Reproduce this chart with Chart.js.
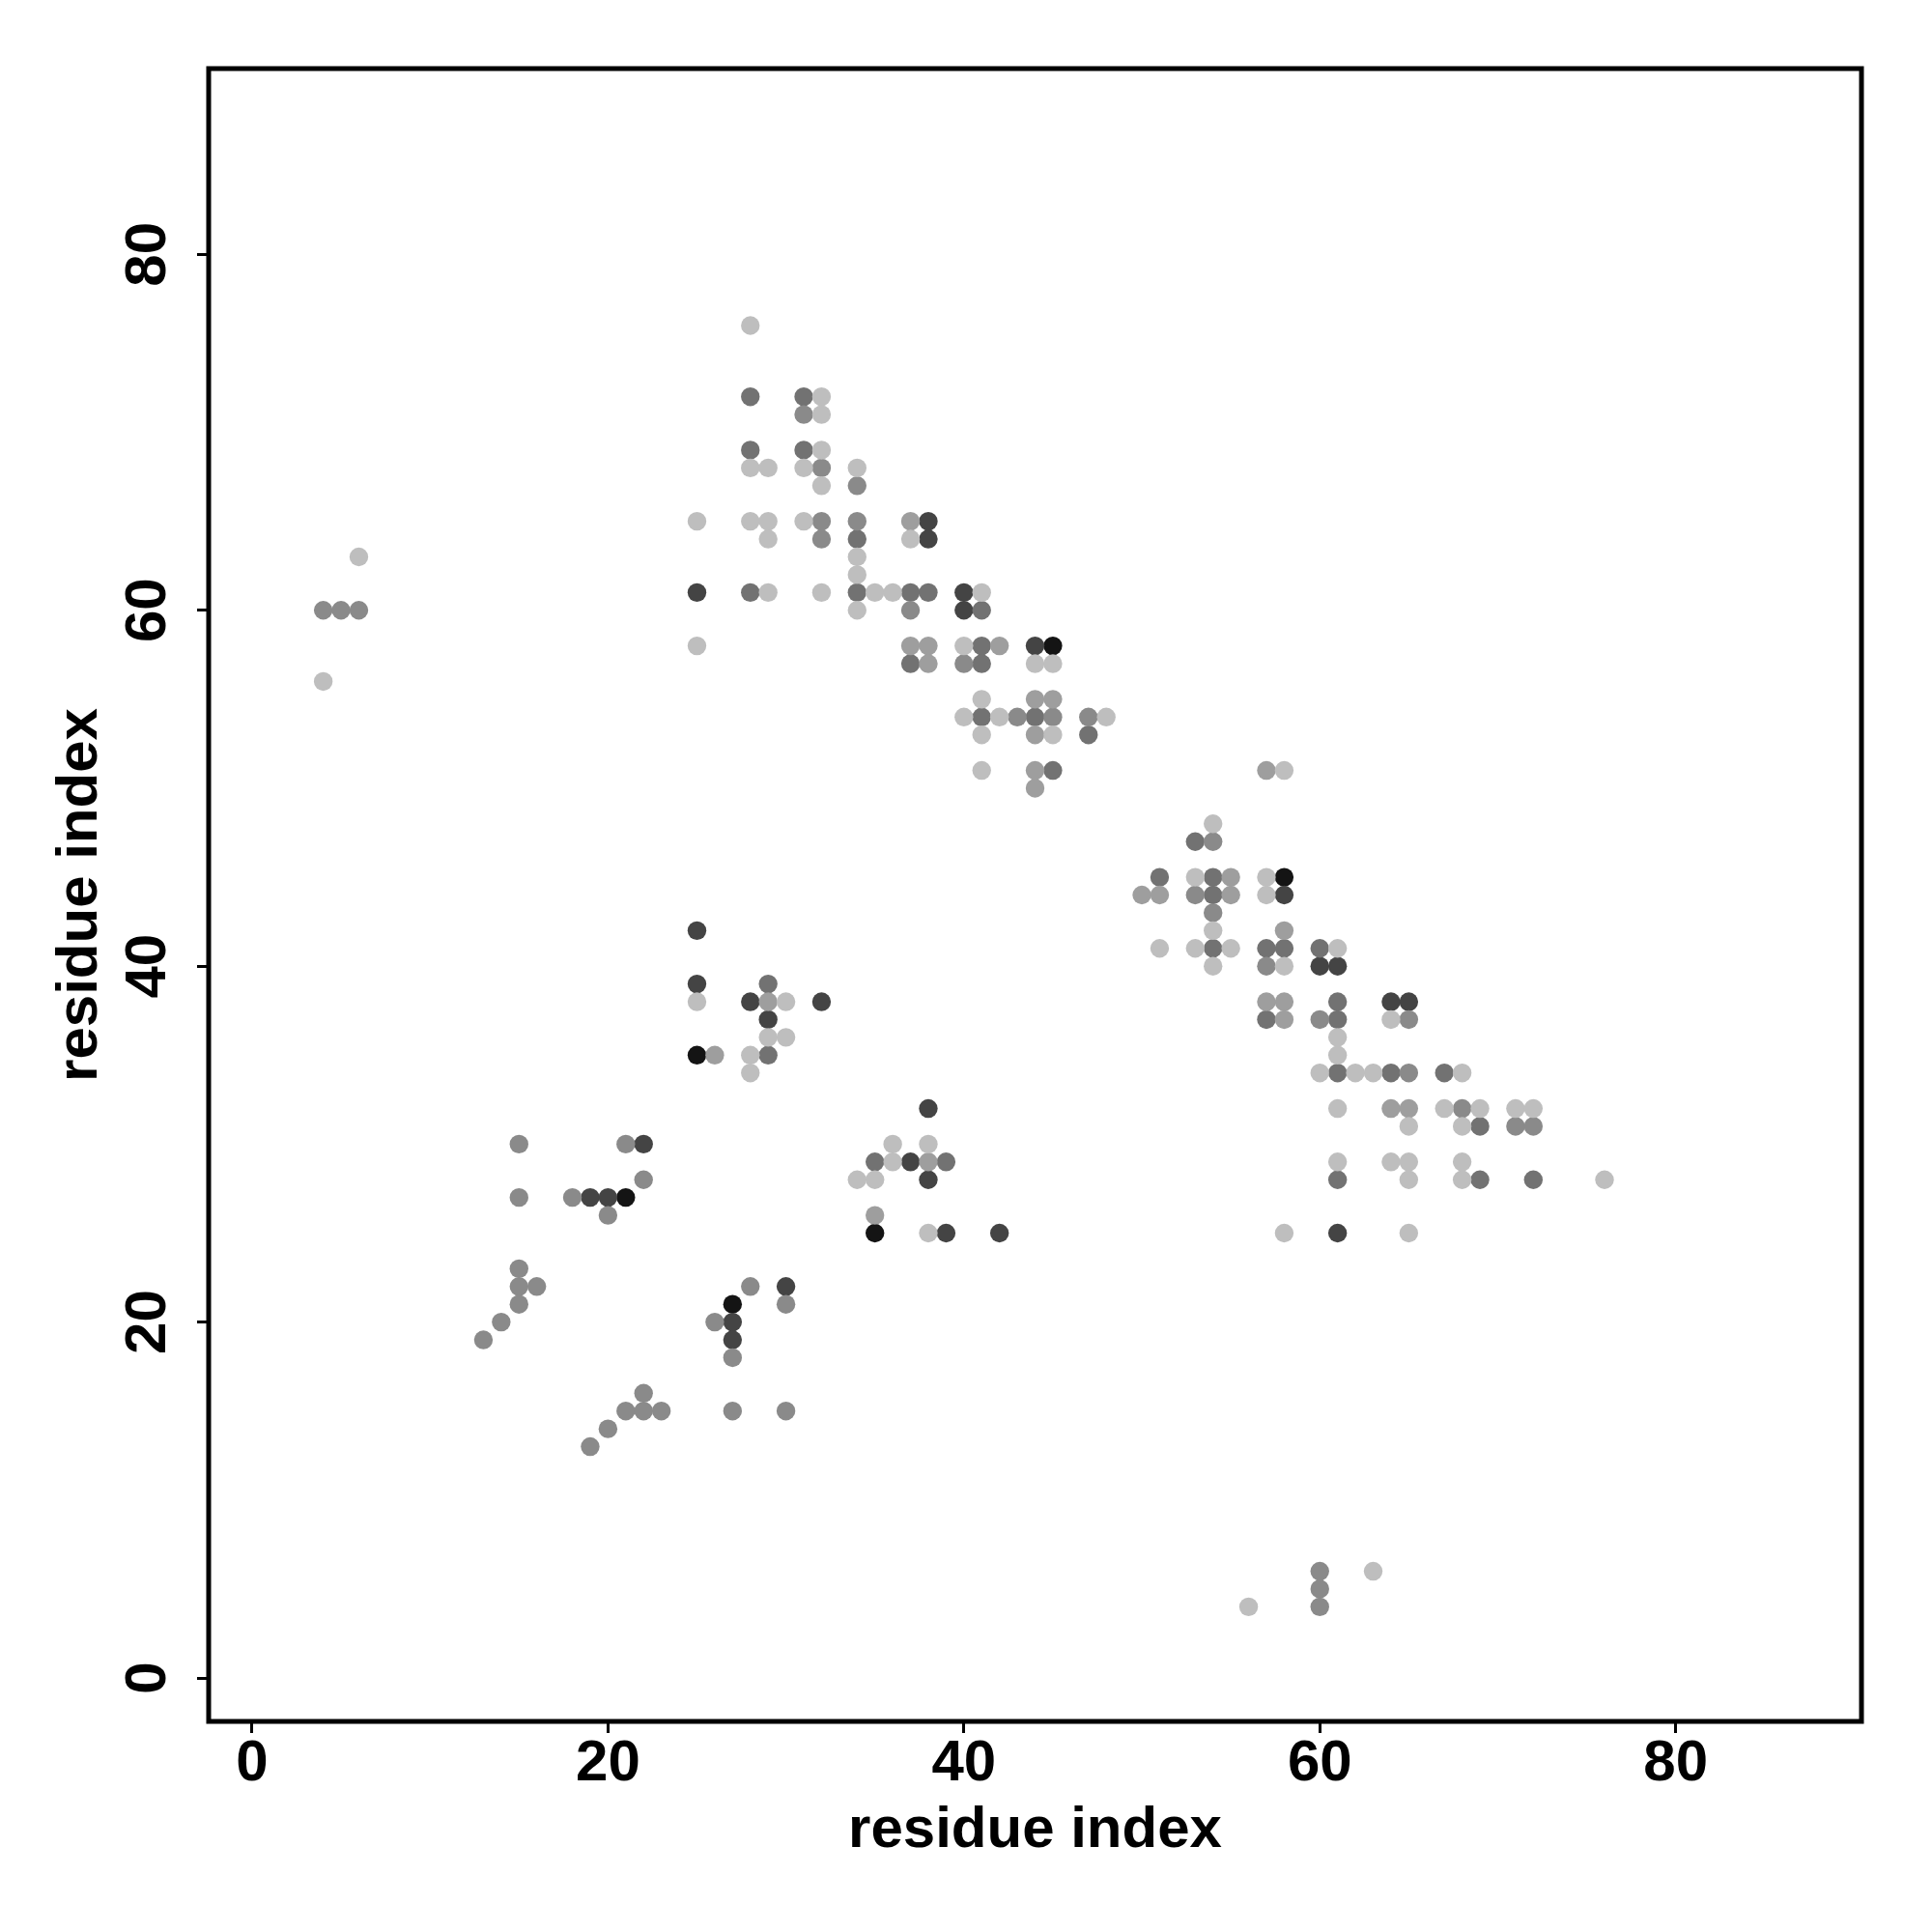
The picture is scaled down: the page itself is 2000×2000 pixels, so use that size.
<!DOCTYPE html>
<html>
<head>
<meta charset="utf-8">
<title>residue contact map</title>
<script src="https://cdn.jsdelivr.net/npm/chart.js@4.4.1/dist/chart.umd.min.js"></script>
<style>
  html, body { margin: 0; padding: 0; background: #fff; }
  #wrap { width: 2000px; height: 2000px; }
</style>
</head>
<body>
<div id="wrap"><canvas id="contactMap" width="2000" height="2000"></canvas></div>
<script>
// contacts [i, j], grouped by shade (lightest to darkest)
const lightContacts = [
  [4, 56], [6, 63],
  [28, 76], [32, 72], [32, 71], [32, 69], [28, 68], [29, 68], [31, 68], [34, 68], [32, 67],
  [25, 65], [28, 65], [29, 65], [31, 65], [29, 64], [37, 64], [34, 63], [34, 62],
  [29, 61], [32, 61], [35, 61], [36, 61], [41, 61], [34, 60], [25, 58], [40, 58],
  [44, 57], [45, 57], [41, 55], [40, 54], [42, 54], [48, 54], [41, 53], [45, 53], [41, 51],
  [58, 51], [54, 48], [53, 45], [57, 45], [57, 44], [54, 42], [51, 41], [53, 41], [55, 41],
  [61, 41], [54, 40], [58, 40], [61, 36], [61, 35], [61, 32], [61, 29], [64, 37], [60, 34],
  [62, 34], [63, 34], [68, 34], [67, 32], [69, 32], [71, 32], [72, 32], [65, 31], [68, 31],
  [64, 29], [65, 29], [68, 29], [65, 28], [68, 28], [76, 28], [58, 25], [65, 25],
  [25, 38], [30, 38], [29, 36], [30, 36], [28, 35], [28, 34], [36, 30], [38, 30], [36, 29],
  [34, 28], [35, 28], [38, 25],
  [56, 4], [63, 6]
];
const paleContacts = [
  [37, 65], [37, 58], [38, 58], [38, 57], [42, 58], [44, 55], [45, 55], [44, 53], [44, 51], [44, 50],
  [57, 51], [55, 45], [50, 44], [51, 44], [55, 44], [58, 42], [57, 38], [58, 38], [58, 37],
  [64, 32], [65, 32],
  [29, 38], [26, 35], [38, 29], [35, 26]
];
const midContacts = [
  [4, 60], [5, 60], [6, 60],
  [31, 71], [32, 68], [34, 67], [32, 65], [34, 65], [32, 64], [37, 60], [40, 57], [43, 54],
  [45, 54], [47, 54],
  [54, 47], [53, 44], [54, 43], [57, 40], [60, 37], [65, 37], [65, 34], [68, 32], [71, 31], [72, 31],
  [15, 30], [21, 30], [22, 28], [15, 27], [18, 27], [20, 26], [15, 23], [15, 22], [16, 22],
  [28, 22], [15, 21], [30, 21], [14, 20], [26, 20], [13, 19], [27, 18], [22, 16], [21, 15],
  [22, 15], [23, 15], [27, 15], [30, 15], [20, 14], [19, 13],
  [60, 6], [60, 5], [60, 4]
];
const darkContacts = [
  [28, 72], [31, 72], [28, 69], [31, 69], [34, 64], [28, 61], [34, 61], [37, 61], [38, 61],
  [41, 60], [41, 58], [37, 57], [41, 57], [41, 54], [44, 54], [47, 53], [45, 51],
  [53, 47], [51, 45], [54, 45], [54, 44], [54, 41], [57, 41], [58, 41], [60, 41], [57, 37],
  [61, 38], [61, 37], [61, 34], [61, 28], [64, 34], [67, 34], [69, 31], [69, 28], [72, 28],
  [29, 39], [29, 35], [35, 29], [39, 29]
];
const deepContacts = [
  [38, 65], [38, 64], [25, 61], [40, 61], [40, 60], [44, 58],
  [58, 44], [60, 40], [61, 40], [64, 38], [65, 38], [61, 25],
  [22, 30], [19, 27], [20, 27], [30, 22], [27, 20], [27, 19],
  [25, 42], [25, 39], [28, 38], [32, 38], [29, 37], [38, 32], [37, 29], [38, 28], [39, 25], [42, 25]
];
const blackContacts = [
  [45, 58], [58, 45], [21, 27], [27, 21], [25, 35], [35, 25]
];

const axisTicks = [0, 20, 40, 60, 80];
const axisTitle = "residue index";

const shades = ["#bebebe", "#9e9e9e", "#8a8a8a", "#727272", "#444444", "#141414"];
const groups = [lightContacts, paleContacts, midContacts, darkContacts, deepContacts, blackContacts];

const labelFont = "bold 60px 'Liberation Sans', Arial, Helvetica, sans-serif";

// box around the plot plus tick labels and axis titles, R style
const frameAndLabels = {
  id: "frameAndLabels",
  afterDraw(chart) {
    const { ctx, chartArea: a, scales } = chart;
    ctx.save();
    ctx.strokeStyle = "#000";
    ctx.lineWidth = 5;
    ctx.strokeRect(a.left, a.top, a.right - a.left, a.bottom - a.top);

    ctx.fillStyle = "#000";
    ctx.font = labelFont;
    ctx.textAlign = "center";
    ctx.textBaseline = "alphabetic";

    scales.x.ticks.forEach((t) => {
      ctx.fillText(String(t.value), scales.x.getPixelForValue(t.value), a.bottom + 61);
    });
    scales.y.ticks.forEach((t) => {
      ctx.save();
      ctx.translate(a.left - 66, scales.y.getPixelForValue(t.value));
      ctx.rotate(-Math.PI / 2);
      ctx.fillText(String(t.value), 0, 21);
      ctx.restore();
    });

    ctx.fillText(axisTitle, (a.left + a.right) / 2, a.bottom + 130);
    ctx.save();
    ctx.translate(a.left - 137, (a.top + a.bottom) / 2);
    ctx.rotate(-Math.PI / 2);
    ctx.fillText(axisTitle, 0, 21);
    ctx.restore();

    ctx.restore();
  }
};

const axisConfig = (size) => ({
  type: "linear",
  min: -2.44,
  max: 90.44,
  afterBuildTicks: (scale) => {
    scale.ticks = axisTicks.map((v) => ({ value: v }));
  },
  afterFit: (scale) => {
    if (scale.isHorizontal()) scale.height = size;
    else scale.width = size;
  },
  ticks: { display: false },
  border: { display: false },
  grid: {
    drawOnChartArea: false,
    drawTicks: true,
    tickLength: 12,
    color: "#000",
    lineWidth: 3
  }
});

const ctx = document.getElementById("contactMap").getContext("2d");

new Chart(ctx, {
  type: "scatter",
  data: {
    datasets: groups.map((pts, i) => ({
      label: "shade " + i,
      data: pts.map(([x, y]) => ({ x, y })),
      backgroundColor: shades[i],
      borderWidth: 0,
      pointRadius: 9.7,
      pointHoverRadius: 9.7
    }))
  },
  options: {
    responsive: false,
    animation: false,
    devicePixelRatio: 1,
    layout: { padding: { left: 0, top: 71, right: 73, bottom: 0 } },
    plugins: {
      legend: { display: false },
      tooltip: { enabled: false }
    },
    scales: {
      x: axisConfig(218),
      y: axisConfig(216)
    }
  },
  plugins: [frameAndLabels]
});
</script>
</body>
</html>
